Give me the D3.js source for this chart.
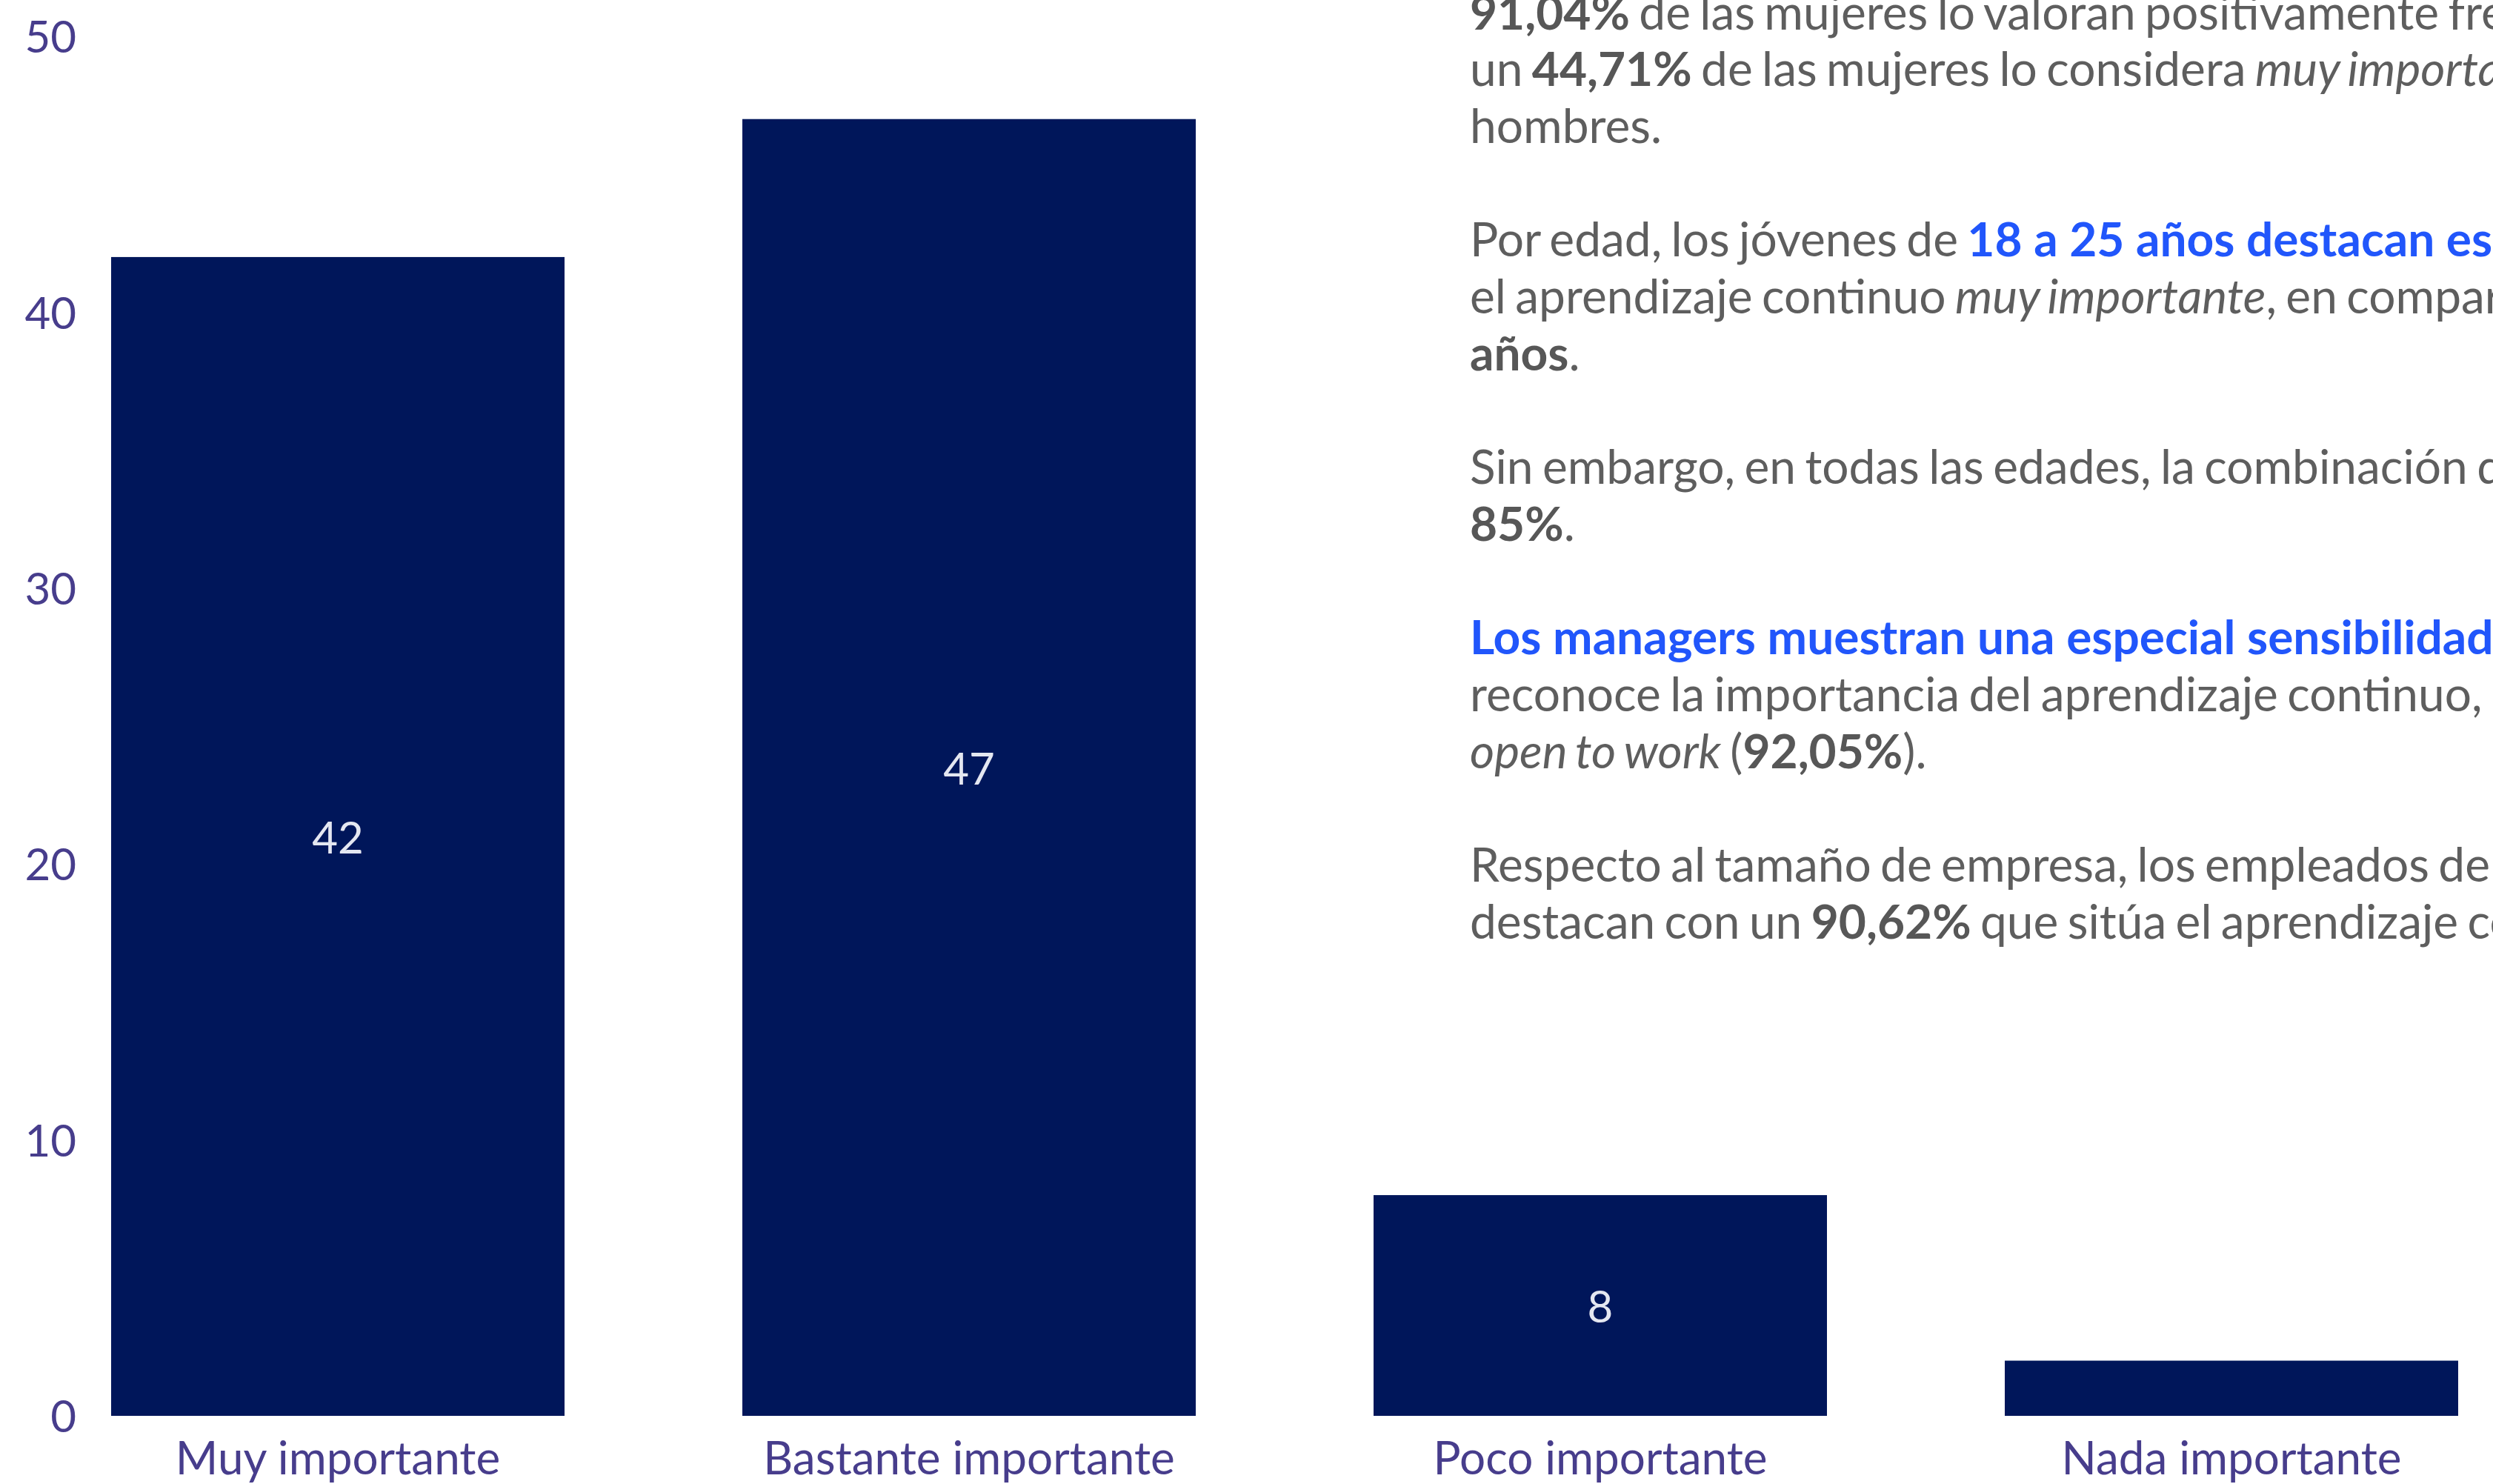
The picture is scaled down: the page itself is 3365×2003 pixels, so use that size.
<!DOCTYPE html>
<html lang="es">
<head>
<meta charset="utf-8">
<script src="https://cdn.jsdelivr.net/npm/d3@7"></script>
<style>
  html, body { margin: 0; padding: 0; background: #ffffff; overflow: hidden; }
  svg { display: block; }
</style>
</head>
<body>
<svg id="chart" width="3365" height="2003"></svg>
<script>
// ---- Data ----
const categories = ["Muy importante", "Bastante importante", "Poco importante", "Nada importante"];
const values = [42, 47, 8, 2];
const yTicks = [0, 10, 20, 30, 40, 50];
const yMax = 50;

// Paragraph text (segments: [text, style]) — style: n normal, b bold, i italic, h highlight (blue bold)
const paragraphLines = [
  [["91,04%", "b"], [" de las mujeres lo valoran positivamente frente", "n"]],
  [["un ", "n"], ["44,71%", "b"], [" de las mujeres lo considera ", "n"], ["muy importante", "i"]],
  [["hombres.", "n"]],
  [],
  [["Por edad, los jóvenes de ", "n"], ["18 a 25 años destacan especialmente", "h"]],
  [["el aprendizaje continuo ", "n"], ["muy importante", "i"], [", en comparación", "n"]],
  [["años", "b"], [".", "n"]],
  [],
  [["Sin embargo, en todas las edades, la combinación de", "n"]],
  [["85%", "b"], [".", "n"]],
  [],
  [["Los managers muestran una especial sensibilidad", "h"]],
  [["reconoce la importancia del aprendizaje continuo, el", "n"]],
  [["open to work", "i"], [" (", "n"], ["92,05%", "b"], [").", "n"]],
  [],
  [["Respecto al tamaño de empresa, los empleados de", "n"]],
  [["destacan con un ", "n"], ["90,62%", "b"], [" que sitúa el aprendizaje continuo", "n"]]
];

// ---- Drawing ----
const svg = d3.select("#chart");
const barColor = "#00165a";
const axisColor = "#473d8c";
const labelColor = "#e4e7f1";
const font = "Lato, 'Open Sans', sans-serif";

const x = d3.scaleBand()
  .domain(categories)
  .range([150, 3318])
  .paddingInner(0.2817)
  .paddingOuter(0);

const y = d3.scaleLinear()
  .domain([0, yMax])
  .range([1911, 49]);

// Bars
svg.append("g")
  .selectAll("rect")
  .data(categories.map((c, i) => ({ c, v: values[i] })))
  .join("rect")
  .attr("x", d => x(d.c))
  .attr("y", d => y(d.v))
  .attr("width", x.bandwidth())
  .attr("height", d => y(0) - y(d.v))
  .attr("fill", barColor);

// Value labels
svg.append("g")
  .selectAll("text")
  .data(categories.map((c, i) => ({ c, v: values[i] })).filter(d => d.v >= 5))
  .join("text")
  .attr("x", d => x(d.c) + x.bandwidth() / 2)
  .attr("y", d => y(d.v / 2))
  .attr("text-anchor", "middle")
  .attr("dominant-baseline", "central")
  .attr("font-family", font)
  .attr("font-size", 60)
  .attr("fill", labelColor)
  .text(d => d.v);

// Y axis (labels only)
const yAxis = d3.axisLeft(y).tickValues(yTicks).tickSize(0).tickPadding(0);
const gy = svg.append("g").attr("transform", "translate(103,0)").call(yAxis);
gy.select(".domain").remove();
gy.selectAll("text")
  .attr("font-family", font)
  .attr("font-size", 60)
  .attr("fill", axisColor)
  .attr("dy", "0.36em");

// X axis (labels only)
const xAxis = d3.axisBottom(x).tickSize(0).tickPadding(0);
const gx = svg.append("g").attr("transform", "translate(0,1990)").call(xAxis);
gx.select(".domain").remove();
gx.selectAll("text")
  .attr("font-family", font)
  .attr("font-size", 62)
  .attr("fill", axisColor)
  .attr("dy", 0);

// Paragraph
const textX = 1984;
const baseline0 = 39.6;
const lineH = 76.7;
const para = svg.append("g")
  .attr("font-family", "Lato, sans-serif")
  .attr("font-size", 64);
paragraphLines.forEach((segs, i) => {
  if (!segs.length) return;
  const t = para.append("text")
    .attr("x", textX)
    .attr("y", baseline0 + i * lineH)
    .attr("xml:space", "preserve")
    .style("white-space", "pre");
  segs.forEach(([txt, st]) => {
    const ts = t.append("tspan").text(txt);
    if (st === "n") ts.attr("fill", "#5e5e5e").style("word-spacing", "-4px");
    if (st === "b") ts.attr("fill", "#575757").attr("font-weight", 700);
    if (st === "i") ts.attr("fill", "#5e5e5e").attr("font-style", "italic").style("word-spacing", "-4px");
    if (st === "h") ts.attr("fill", "#2156fb").attr("font-weight", 700);
  });
});
</script>
</body>
</html>
